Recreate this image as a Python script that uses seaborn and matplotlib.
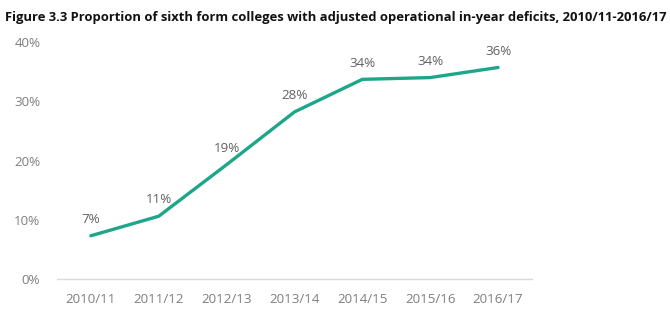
import matplotlib
matplotlib.use("Agg")
import matplotlib.pyplot as plt
import seaborn as sns
import pandas as pd

years = ["2010/11", "2011/12", "2012/13", "2013/14", "2014/15", "2015/16", "2016/17"]
values = [7.3, 10.6, 19.3, 28.2, 33.7, 34.0, 35.7]
labels = ["7%", "11%", "19%", "28%", "34%", "34%", "36%"]
yticks = [0, 10, 20, 30, 40]
title = "Figure 3.3 Proportion of sixth form colleges with adjusted operational in-year deficits, 2010/11-2016/17"

sns.set_theme(style="white")
plt.rcParams['font.family'] = ['Open Sans', 'DejaVu Sans']

df = pd.DataFrame({"year": years, "value": values})
df["x"] = range(len(years))

fig = plt.figure(figsize=(6.7, 3.22), dpi=100)
ax = fig.add_axes([0.085, 0.1335, 0.709, 0.736])
sns.lineplot(data=df, x="x", y="value", ax=ax, color="#1ea68a", linewidth=2.4)

for xi, v, lab in zip(df["x"], values, labels):
    ax.annotate(lab, (xi, v), xytext=(0, 7), textcoords="offset points",
                ha="center", va="bottom", fontsize=9.6, color="#606060")

ax.set_xlim(-0.5, len(years) - 0.5)
ax.set_ylim(0, 40)
ax.set_xticks(df["x"])
ax.set_xticklabels(years)
ax.set_yticks(yticks)
ax.set_yticklabels([f"{t}%" for t in yticks])
ax.tick_params(axis="both", labelsize=9.6, colors="#7f7f7f", length=0)
ax.tick_params(axis="x", pad=10)
ax.tick_params(axis="y", pad=12)
ax.set_xlabel("")
ax.set_ylabel("")
for s in ["top", "right", "left"]:
    ax.spines[s].set_visible(False)
ax.spines["bottom"].set_color("#d9d9d9")
ax.spines["bottom"].set_linewidth(1)
for line in ax.lines:
    line.set_clip_on(False)

fig.text(0.008, 0.965, title, fontsize=9.4, fontweight="bold", color="#111111",
         ha="left", va="top", family=["Liberation Sans Narrow", "Open Sans", "DejaVu Sans"])

fig.savefig("out.png", dpi=100, facecolor="white")
